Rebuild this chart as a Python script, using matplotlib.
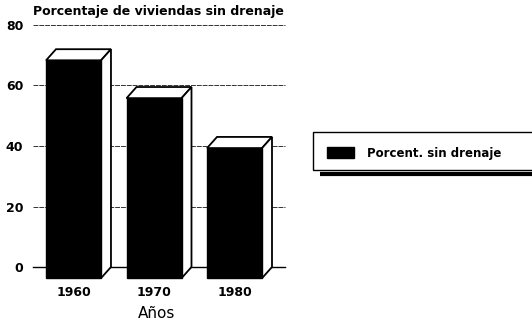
import matplotlib
matplotlib.use('Agg')
import matplotlib.pyplot as plt
from matplotlib.patches import Polygon, Rectangle

years = ['1960', '1970', '1980']
pct_sin_drenaje = [72, 59.5, 43]
y_ticks = [0, 20, 40, 60, 80]

W, H = 532, 324
BAR_W = 0.683      # front face width in category units
DEPTH_X = 0.124    # 3d offset, category units
DEPTH_Y = 3.7      # 3d offset, value units


def draw_bar(ax, x, v):
    x0, x1 = x - BAR_W / 2, x + BAR_W / 2
    y0, y1 = -DEPTH_Y, v - DEPTH_Y
    # top and side faces (white), then the black front
    top = Polygon([(x0, y1), (x1, y1), (x1 + DEPTH_X, v), (x0 + DEPTH_X, v)],
                  closed=True, fc='white', ec='black', lw=1.3, zorder=3, clip_on=False)
    side = Polygon([(x1, y0), (x1 + DEPTH_X, 0), (x1 + DEPTH_X, v), (x1, y1)],
                   closed=True, fc='white', ec='black', lw=1.3, zorder=3, clip_on=False)
    front = Rectangle((x0, y0), BAR_W, v, fc='black', ec='black', lw=1, zorder=4, clip_on=False)
    for p in (top, side, front):
        ax.add_patch(p)


fig = plt.figure(figsize=(W / 100, H / 100), dpi=100)
ax = fig.add_axes([33 / W, (H - 267) / H, 252 / W, 242 / H])

for i, v in enumerate(pct_sin_drenaje):
    draw_bar(ax, i, v)

for t in y_ticks[1:]:
    ax.axhline(t, color='#333333', lw=0.7, ls=(0, (5, 1)), zorder=1, clip_on=False)
ax.axhline(0, color='black', lw=1.0, zorder=1, clip_on=False)

ax.set_xlim(-0.503, 2.627)
ax.set_ylim(0, 80)
ax.set_yticks(y_ticks)
ax.set_yticklabels([str(t) for t in y_ticks], fontsize=9, fontweight='bold')
ax.set_xticks(range(len(years)))
ax.set_xticklabels(years, fontsize=9, fontweight='bold')
ax.tick_params(axis='y', length=0, pad=7)
ax.tick_params(axis='x', length=0, pad=14)
for s in ax.spines.values():
    s.set_visible(False)

fig.text(33 / W, 1 - 12 / H, 'Porcentaje de viviendas sin drenaje',
         fontsize=9, fontweight='bold', va='center', ha='left')
fig.text(157 / W, 1 - 313 / H, 'Años', fontsize=11, ha='center', va='center')

# legend box with drop shadow along the bottom
lg = fig.add_axes([0, 0, 1, 1], zorder=5)
lg.set_xlim(0, W)
lg.set_ylim(H, 0)
lg.axis('off')
lg.add_patch(Rectangle((313, 132), 240, 38, fc='white', ec='black', lw=1.0, clip_on=False))
lg.plot([320, W], [173.5, 173.5], color='black', lw=3, solid_capstyle='butt')
lg.add_patch(Rectangle((327, 147), 27, 11, fc='black', ec='black'))
lg.text(367, 153, 'Porcent. sin drenaje', fontsize=8.5, fontweight='bold', va='center', ha='left')

fig.savefig('out.png', dpi=100)
